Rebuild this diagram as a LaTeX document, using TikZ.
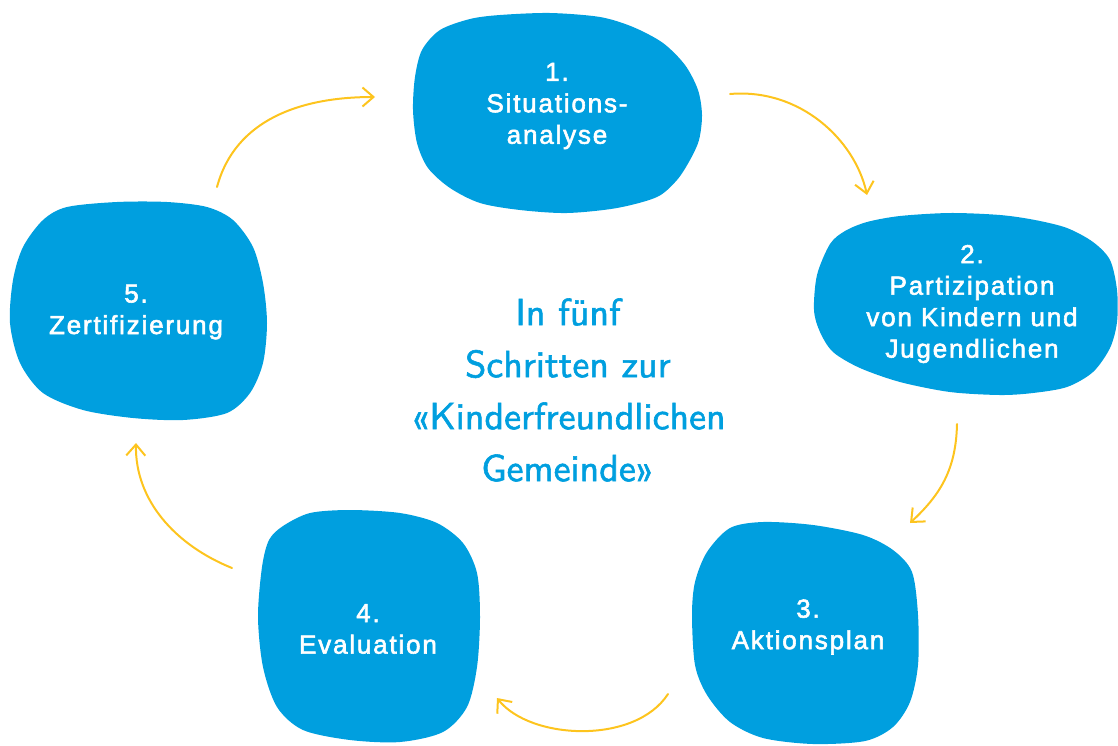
\documentclass[tikz,border=0pt]{standalone}
\usepackage{fontspec}
\usetikzlibrary{arrows.meta}
\newfontfamily\boxfont[LetterSpace=7,FakeBold=2.2]{Liberation Sans}
\newfontfamily\handfont[FakeBold=1.5]{lmsans10-regular.otf}
\definecolor{blobblue}{RGB}{0,159,223}
\definecolor{arrowyellow}{RGB}{253,196,30}
\begin{document}
\begin{tikzpicture}[x=1pt,y=-1pt,
  blob/.style={fill=blobblue},
  steplabel/.style={text=white, font=\boxfont\fontsize{26}{31.5}\selectfont, align=center, inner sep=0pt},
  cyclearrow/.style={draw=arrowyellow, line width=2pt, line cap=round, line join=round,
    -{Straight Barb[length=11pt,width=19pt]}},
  centertext/.style={text=blobblue, font=\handfont\fontsize{38}{52}\selectfont, align=center, inner sep=0pt}]
\useasboundingbox (0,0) rectangle (1118,745);

% blobs
\fill[blob] plot[smooth cycle] coordinates {(440,30) (470,19) (500,15) (550,13) (600,17) (633,27) (663,43) (685,65) (698,90) (702,115) (699,140) (690,160) (677,180) (657,197) (617,208) (567,213) (520,210) (480,203) (450,188) (428,168) (417,143) (413,110) (415,77) (422,50)};
\fill[blob] plot[smooth cycle] coordinates {(830,244) (845,231) (867,222) (900,216) (950,213) (1000,215) (1035,220) (1067,228) (1093,242) (1110,260) (1117,290) (1117,322) (1110,348) (1093,372) (1067,387) (1033,393) (1000,395) (950,392) (900,382) (860,368) (833,352) (820,332) (814,310) (817,275)};
\fill[blob] plot[smooth cycle] coordinates {(730,528) (763,522) (813,525) (863,535) (893,550) (912,572) (918,615) (918,665) (910,702) (893,727) (865,741) (813,744) (763,738) (730,722) (707,695) (695,665) (692,615) (695,582) (707,552)};
\fill[blob] plot[smooth cycle] coordinates {(283,526) (310,513) (350,510) (400,513) (437,523) (463,543) (477,573) (480,617) (477,667) (467,707) (443,732) (400,742) (350,740) (303,730) (277,707) (263,667) (258,617) (262,567) (269,540)};
\fill[blob] plot[smooth cycle] coordinates {(43,220) (67,207) (117,202) (167,202) (207,207) (233,220) (253,247) (263,283) (267,323) (263,363) (250,393) (227,413) (183,420) (133,418) (83,410) (43,393) (20,363) (10,323) (13,280) (23,247)};

% labels
\node[steplabel] (s1) at (557,106) {1.\\Situations-\\analyse};
\node[steplabel] (s2) at (972,304) {2.\\Partizipation\\von Kindern und\\Jugendlichen};
\node[steplabel] (s3) at (808,627) {3.\\Aktionsplan};
\node[steplabel] (s4) at (368,629) {4.\\Evaluation};
\node[steplabel] (s5) at (136,312) {5.\\Zertifizierung};

\node[centertext] (title) at (568,390) {In fünf\\Schritten zur\\«Kinderfreundlichen\\Gemeinde»};

% arrow end points
\coordinate (a1s) at (217,187); \coordinate (a1e) at (375,97);
\coordinate (a2s) at (730,94);  \coordinate (a2e) at (867,195);
\coordinate (a3s) at (957,424); \coordinate (a3e) at (910,523);
\coordinate (a4s) at (668,694); \coordinate (a4e) at (497,698);
\coordinate (a5s) at (232,568); \coordinate (a5e) at (136,443);

\draw[cyclearrow] (a1s) .. controls (235,120) and (300,97) .. (a1e);
\draw[cyclearrow] (a2s) .. controls (800,88) and (855,140) .. (a2e);
\draw[cyclearrow] (a3s) .. controls (956,470) and (940,495) .. (a3e);
\draw[cyclearrow] (a4s) .. controls (635,745) and (530,740) .. (a4e);
\draw[cyclearrow] (a5s) .. controls (175,545) and (135,500) .. (a5e);
\end{tikzpicture}
\end{document}
